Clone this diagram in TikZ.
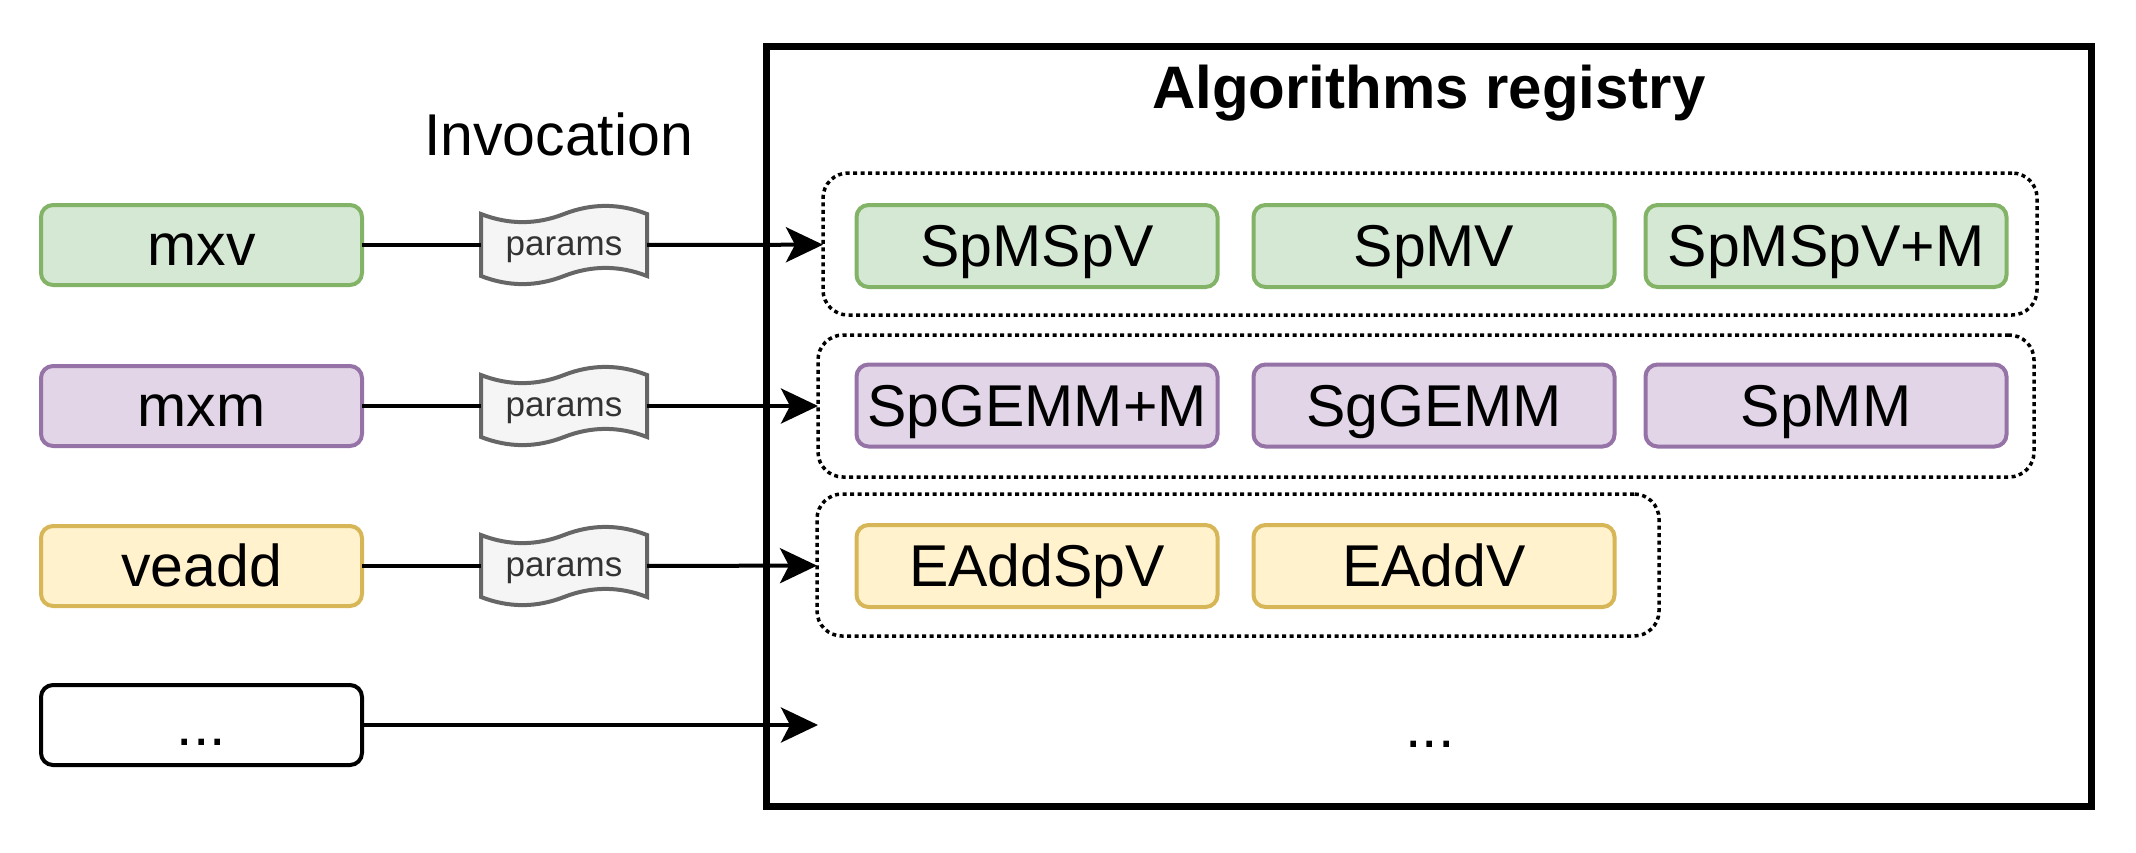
\documentclass[tikz,border=0pt]{standalone}
\usepackage{fontspec}
\setmainfont{Liberation Sans}
\usetikzlibrary{arrows.meta}

\definecolor{mxvfill}{HTML}{D5E8D4}
\definecolor{mxvline}{HTML}{82B366}
\definecolor{mxmfill}{HTML}{E1D5E7}
\definecolor{mxmline}{HTML}{9673A6}
\definecolor{addfill}{HTML}{FFF2CC}
\definecolor{addline}{HTML}{D6B656}
\definecolor{tapefill}{HTML}{F5F5F5}
\definecolor{tapeline}{HTML}{666666}
\definecolor{tapetext}{HTML}{333333}

\tikzset{
  box/.style={draw, rounded corners=12pt, line width=4pt, minimum width=321pt, minimum height=80pt,
    inner sep=0pt, outer sep=0pt, text height=53pt, text depth=12pt, font=\fontsize{59}{70}\selectfont},
  alg/.style={box, minimum width=361pt, minimum height=82pt},
  mxvcol/.style={fill=mxvfill, draw=mxvline},
  mxmcol/.style={fill=mxmfill, draw=mxmline},
  addcol/.style={fill=addfill, draw=addline},
  grp/.style={draw, dash pattern=on 4pt off 3.5pt, line width=3.5pt, rounded corners=25pt,
    minimum height=142pt, inner sep=0pt, outer sep=0pt},
  tape/.style={fill=tapefill, draw=tapeline, line width=4pt},
  ptext/.style={minimum width=166pt, minimum height=80pt, inner sep=0pt, outer sep=0pt, text=tapetext,
    text height=27pt, text depth=7pt, font=\fontsize{35}{42}\selectfont},
  link/.style={line width=4pt},
  arr/.style={link, -{Stealth[length=37pt, width=35pt, inset=9pt]}},
}

\begin{document}
\begin{tikzpicture}[x=1pt, y=-1pt]
\useasboundingbox (0,0) rectangle (2136,852);

% registry
\node[draw, line width=7pt, minimum width=1325pt, minimum height=760pt, inner sep=0pt, outer sep=0pt] (registry) at (1428.5,426) {};
\node[anchor=base, font=\fontsize{60}{72}\selectfont\bfseries] (title) at (1429,108) {Algorithms registry};
\node[anchor=base, font=\fontsize{59}{70}\selectfont] (invocation) at (558.5,155) {Invocation};

% groups
\node[grp, minimum width=1214pt] (gmxv) at (1430,244) {};
\node[grp, minimum width=1216pt] (gmxm) at (1426,406) {};
\node[grp, minimum width=842pt] (gveadd) at (1238,565) {};

% algorithms
\node[alg, mxvcol] (spmspv) at (1037,246) {SpMSpV};
\node[alg, mxvcol] (spmv) at (1434,246) {SpMV};
\node[alg, mxvcol] (spmspvm) at (1826,246) {SpMSpV+M};
\node[alg, mxmcol] (spgemmm) at (1037,405.5) {SpGEMM+M};
\node[alg, mxmcol] (sggemm) at (1434,405.5) {SgGEMM};
\node[alg, mxmcol] (spmm) at (1826,405.5) {SpMM};
\node[alg, addcol] (eaddspv) at (1037,566) {EAddSpV};
\node[alg, addcol] (eaddv) at (1434,566) {EAddV};
\node[inner sep=0pt, text height=53pt, text depth=12pt, font=\fontsize{59}{70}\selectfont] (regmore) at (1430,727) {...};

% operations
\node[box, mxvcol] (mxv) at (201.5,245) {mxv};
\node[box, mxmcol] (mxm) at (201.5,406) {mxm};
\node[box, addcol] (veadd) at (201.5,566) {veadd};
\node[box, fill=white] (more) at (201.5,725) {...};

% params
\foreach \y/\n in {245/p1, 406/p2, 566/p3}{
  \draw[tape, shift={(564,\y)}] (-83,-31) .. controls (-55.3,-20.2) and (-27.7,-20.2) .. (0,-31)
    .. controls (27.7,-41.8) and (55.3,-41.8) .. (83,-31) -- (83,31)
    .. controls (55.3,20.2) and (27.7,20.2) .. (0,31)
    .. controls (-27.7,41.8) and (-55.3,41.8) .. (-83,31) -- cycle;
  \node[ptext] (\n) at (564,\y) {params};
}

\draw[link] (mxv) -- (p1);
\draw[arr] (p1) -- (gmxv);
\draw[link] (mxm) -- (p2);
\draw[arr] (p2) -- (gmxm);
\draw[link] (veadd) -- (p3);
\draw[arr] (p3) -- (gveadd);
\coordinate (moreend) at (818,725);
\draw[arr] (more) -- (moreend);
\end{tikzpicture}
\end{document}
